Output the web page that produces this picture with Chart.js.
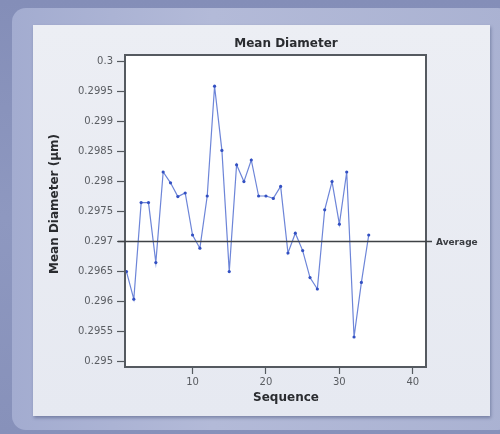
<!DOCTYPE html>
<html>
<head>
<meta charset="utf-8">
<script src="https://cdn.jsdelivr.net/npm/chart.js@4"></script>
<style>
  html, body { margin: 0; padding: 0; }
  body { width: 500px; height: 434px; overflow: hidden; position: relative;
         background: linear-gradient(180deg, #848eb8 0%, #8e98c0 50%, #8791ba 100%); }
  #frame { position: absolute; left: 12px; top: 8px; width: 500px; height: 422px;
           border-radius: 14px; background: linear-gradient(90deg, #a3acd0 0%, #b3bad8 40%, #aab2d2 100%); }
  #panel { position: absolute; left: 33px; top: 25px; width: 457px; height: 391px;
           background: linear-gradient(180deg, #eceef4 0%, #e6e9f1 100%);
           box-shadow: 1px 2px 3px rgba(60,70,110,0.45); }
  #c { position: absolute; left: 0; top: 0; }
</style>
</head>
<body>
<div id="frame"></div>
<div id="panel"></div>
<canvas id="c" width="500" height="434"></canvas>
<script>
const sequence = [1,2,3,4,5,6,7,8,9,10,11,12,13,14,15,16,17,18,19,20,21,22,23,24,25,26,27,28,29,30,31,32,33,34];
const meanDiameter = [0.2965, 0.29604, 0.29765, 0.29765, 0.29665, 0.29816, 0.29798, 0.29775, 0.29781, 0.29711,
                      0.29689, 0.29776, 0.29959, 0.29852, 0.2965, 0.29828, 0.298, 0.29836, 0.29776, 0.29776,
                      0.29772, 0.29792, 0.29681, 0.29714, 0.29685, 0.2964, 0.29621, 0.29753, 0.298, 0.29729,
                      0.29816, 0.29541, 0.29632, 0.29711];
const xTicks = [10, 20, 30, 40];
const yTicks = [0.295, 0.2955, 0.296, 0.2965, 0.297, 0.2975, 0.298, 0.2985, 0.299, 0.2995, 0.3];
const averageValue = [0.297];
const averageLabel = ["Average"];
const chartTitle = "Mean Diameter";
const xTitle = "Sequence";
const yTitle = "Mean Diameter (\u00b5m)";

const decor = {
  id: 'decor',
  beforeDatasetsDraw(chart) {
    const {ctx, chartArea: a} = chart;
    ctx.save();
    ctx.fillStyle = '#ffffff';
    ctx.fillRect(a.left, a.top, a.right - a.left, a.bottom - a.top);
    ctx.restore();
  },
  afterDatasetsDraw(chart) {
    const {ctx, chartArea: a, scales} = chart;
    ctx.save();
    // frame
    ctx.strokeStyle = '#555a60';
    ctx.lineWidth = 2;
    ctx.strokeRect(a.left, a.top, a.right - a.left, a.bottom - a.top);
    // average line
    const yAvg = scales.y.getPixelForValue(averageValue[0]);
    ctx.strokeStyle = '#3f4246';
    ctx.lineWidth = 1.5;
    ctx.beginPath();
    ctx.moveTo(a.left - 7, yAvg);
    ctx.lineTo(a.right + 6, yAvg);
    ctx.stroke();
    ctx.fillStyle = '#3a3d42';
    ctx.font = 'bold 9px "DejaVu Sans"';
    ctx.textAlign = 'left';
    ctx.textBaseline = 'middle';
    ctx.fillText(averageLabel[0], a.right + 10, yAvg + 1);
    // titles
    ctx.fillStyle = '#2a2c30';
    ctx.font = 'bold 12px "DejaVu Sans"';
    ctx.textAlign = 'center';
    ctx.fillText(chartTitle, 286, 44);
    ctx.fillText(xTitle, 286, 398);
    ctx.translate(55, 204);
    ctx.rotate(-Math.PI / 2);
    ctx.fillText(yTitle, 0, 0);
    ctx.restore();
  }
};

new Chart(document.getElementById('c'), {
  type: 'line',
  data: {
    datasets: [{
      data: sequence.map((s, i) => ({x: s, y: meanDiameter[i]})),
      borderColor: '#6d85d8',
      borderWidth: 1.2,
      pointRadius: 1.6,
      pointBackgroundColor: '#3350c2',
      pointBorderColor: '#3350c2',
      pointBorderWidth: 0,
      tension: 0,
      fill: false
    }]
  },
  options: {
    responsive: false,
    animation: false,
    layout: { padding: { top: 55, right: 74, left: 0, bottom: 0 } },
    plugins: { legend: { display: false }, tooltip: { enabled: false }, title: { display: false } },
    scales: {
      x: {
        type: 'linear',
        min: 0.8, max: 41.8,
        afterBuildTicks(s) { s.ticks = xTicks.map(v => ({value: v})); },
        afterFit(s) { s.height = 67; },
        grid: { drawOnChartArea: false, drawTicks: true, tickLength: 7, tickColor: '#555a60', tickWidth: 1.2 },
        border: { display: false },
        ticks: { color: '#5a5d62', font: { family: 'DejaVu Sans', size: 10 }, padding: 2, maxRotation: 0 }
      },
      y: {
        type: 'linear',
        min: 0.29491, max: 0.30011,
        afterBuildTicks(s) { s.ticks = yTicks.map(v => ({value: v})); },
        afterFit(s) { s.width = 125; },
        grid: { drawOnChartArea: false, drawTicks: true, tickLength: 8, tickColor: '#555a60', tickWidth: 1.2 },
        border: { display: false },
        ticks: {
          color: '#5a5d62', font: { family: 'DejaVu Sans', size: 10 }, padding: 4,
          callback: v => String(Number(v.toFixed(4)))
        }
      }
    }
  },
  plugins: [decor]
});
</script>
</body>
</html>
